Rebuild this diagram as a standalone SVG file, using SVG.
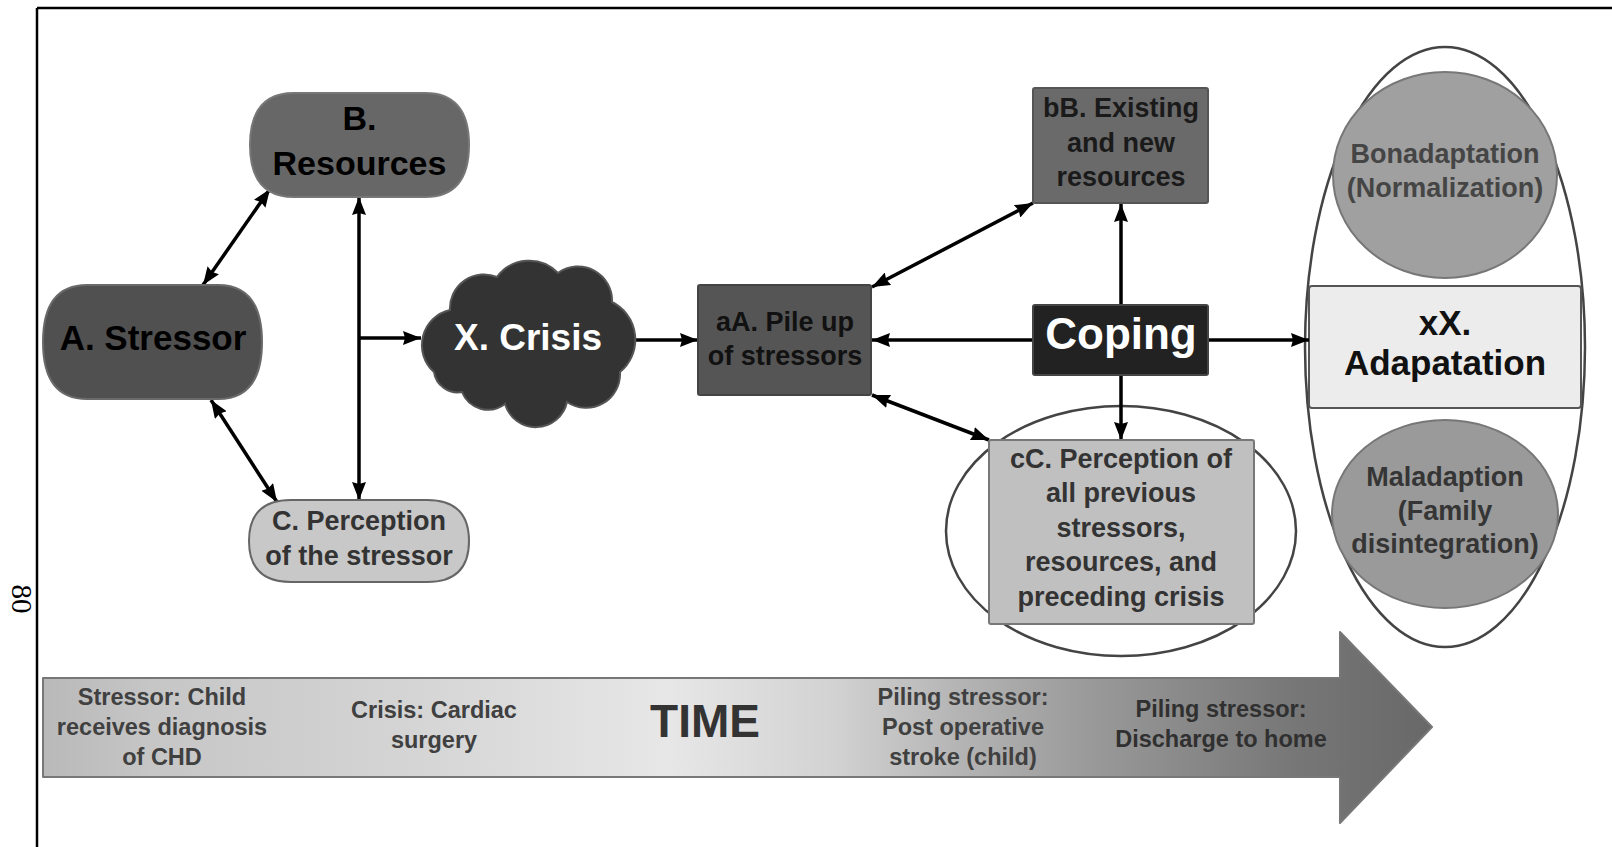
<svg xmlns="http://www.w3.org/2000/svg" width="1612" height="847" viewBox="0 0 1612 847">
<style>
text{font-family:"Liberation Sans",Arial,sans-serif;font-weight:bold;text-anchor:middle}
.t27{font-size:27px}
.tm{font-size:23.5px;fill:#404040}
.tmd{font-size:23.5px;fill:#303030}
.con{stroke:#000;stroke-width:3.5;fill:none}
.dbl{marker-start:url(#ah);marker-end:url(#ah)}
.one{marker-end:url(#ah)}
</style>
<defs>
<marker id="ah" markerUnits="userSpaceOnUse" markerWidth="19" markerHeight="14" refX="18" refY="7" orient="auto-start-reverse">
<path d="M0,0 L18,7 L0,14 L2,7 Z" fill="#000"/>
</marker>
<linearGradient id="timeg" gradientUnits="userSpaceOnUse" x1="43" y1="0" x2="1432" y2="0">
<stop offset="0" stop-color="#b9b9b9"/>
<stop offset="0.08" stop-color="#c6c6c6"/>
<stop offset="0.28" stop-color="#d6d6d6"/>
<stop offset="0.45" stop-color="#e7e7e7"/>
<stop offset="0.57" stop-color="#d2d2d2"/>
<stop offset="0.66" stop-color="#b4b4b4"/>
<stop offset="0.76" stop-color="#989898"/>
<stop offset="0.9" stop-color="#777777"/>
<stop offset="1" stop-color="#686868"/>
</linearGradient>
</defs>
<rect width="1612" height="847" fill="#fff"/>
<g id="frame">
<line x1="37" y1="8" x2="1612" y2="8" stroke="#000" stroke-width="2.5"/>
<line x1="37" y1="8" x2="37" y2="847" stroke="#000" stroke-width="2.5"/>
<text x="0" y="0" transform="translate(12,599) rotate(90)" style="font-family:'Liberation Serif','Times New Roman',serif;font-weight:normal;font-size:29px">80</text>
</g>
<g id="time-arrow">
<path d="M43,678 H1340 V632 L1432,727 L1340,823 V777 H43 Z" fill="url(#timeg)" stroke="#777" stroke-width="2" stroke-linejoin="round"/>
<text class="tm" x="162" y="705">Stressor: Child</text>
<text class="tm" x="162" y="735">receives diagnosis</text>
<text class="tm" x="162" y="765">of CHD</text>
<text class="tm" x="434" y="718">Crisis: Cardiac</text>
<text class="tm" x="434" y="748">surgery</text>
<text x="705" y="737" style="font-size:46px;fill:#333">TIME</text>
<text class="tm" x="963" y="705">Piling stressor:</text>
<text class="tm" x="963" y="735">Post operative</text>
<text class="tm" x="963" y="765">stroke (child)</text>
<text class="tmd" x="1221" y="717">Piling stressor:</text>
<text class="tmd" x="1221" y="747">Discharge to home</text>
</g>
<g id="adaptation-group">
<ellipse cx="1445" cy="347" rx="140" ry="300" fill="none" stroke="#444" stroke-width="2.5"/>
</g>
<g id="bonadaptation">
<ellipse cx="1445" cy="175" rx="112" ry="103" fill="#a0a0a0" stroke="#777" stroke-width="2"/>
<text class="t27" x="1445" y="163" fill="#454545">Bonadaptation</text>
<text class="t27" x="1445" y="197" fill="#454545">(Normalization)</text>
</g>
<g id="maladaption">
<ellipse cx="1445" cy="514" rx="113" ry="94" fill="#9a9a9a" stroke="#777" stroke-width="2"/>
<text class="t27" x="1445" y="486" fill="#353535">Maladaption</text>
<text class="t27" x="1445" y="520" fill="#353535">(Family</text>
<text class="t27" x="1445" y="553" fill="#353535">disintegration)</text>
</g>
<g id="adaptation">
<rect x="1309" y="286" width="272" height="122" rx="3" fill="#ececec" stroke="#555" stroke-width="2"/>
<text x="1445" y="335" style="font-size:35px;fill:#111">xX.</text>
<text x="1445" y="375" style="font-size:35px;fill:#111">Adapatation</text>
</g>
<g id="cc-ellipse">
<ellipse cx="1121" cy="531" rx="175" ry="125" fill="none" stroke="#444" stroke-width="2.5"/>
</g>
<g id="connectors">
<line class="con dbl" x1="203" y1="285" x2="270" y2="189"/>
<line class="con dbl" x1="211" y1="400" x2="277" y2="502"/>
<line class="con dbl" x1="359" y1="197" x2="359" y2="500"/>
<line class="con one" x1="359" y1="338" x2="421" y2="338"/>
<line class="con one" x1="632" y1="340" x2="698" y2="340"/>
<line class="con dbl" x1="872" y1="287" x2="1033" y2="203"/>
<line class="con one" x1="1033" y1="340" x2="872" y2="340"/>
<line class="con one" x1="1121" y1="305" x2="1121" y2="204"/>
<line class="con one" x1="1121" y1="375" x2="1121" y2="440"/>
<line class="con one" x1="1208" y1="340" x2="1309" y2="340"/>
<line class="con dbl" x1="872" y1="395" x2="989" y2="440"/>
</g>
<g id="stressor">
<path d="M87,285 H218 Q262,285 262,342 Q262,399 218,399 H87 Q43,399 43,342 Q43,285 87,285 Z" fill="#505050" stroke="#6a6a6a" stroke-width="2"/>
<text x="153" y="350" style="font-size:35px;fill:#000">A. Stressor</text>
</g>
<g id="resources">
<path d="M294,93 H425 Q469,93 469,145 Q469,197 425,197 H294 Q250,197 250,145 Q250,93 294,93 Z" fill="#676767" stroke="#777" stroke-width="2"/>
<text x="359.5" y="130" style="font-size:34px;fill:#000">B.</text>
<text x="359.5" y="175" style="font-size:34px;fill:#000">Resources</text>
</g>
<g id="perception">
<path d="M291,500 H427 Q469,500 469,541 Q469,582 427,582 H291 Q249,582 249,541 Q249,500 291,500 Z" fill="#c8c8c8" stroke="#666" stroke-width="2"/>
<text class="t27" x="359" y="530" fill="#333">C. Perception</text>
<text class="t27" x="359" y="565" fill="#333">of the stressor</text>
</g>
<g id="crisis">
<path d="M434,372 A36,36 0 0 1 450,310 A34,34 0 0 1 497,277 A40,40 0 0 1 558,273 A34,34 0 0 1 612,302 A42,42 0 0 1 620,372 A34,34 0 0 1 567,402 A32,32 0 0 1 505,404 A28,28 0 0 1 462,392 A24,24 0 0 1 434,372 Z" fill="#333" stroke="#555" stroke-width="2"/>
<text x="528" y="350" style="font-size:37px;fill:#fff">X. Crisis</text>
</g>
<g id="pileup">
<rect x="698" y="285" width="173" height="110" rx="2" fill="#555" stroke="#444" stroke-width="2"/>
<text class="t27" x="785" y="331" fill="#111">aA. Pile up</text>
<text class="t27" x="785" y="365" fill="#111">of stressors</text>
</g>
<g id="existing">
<rect x="1033" y="88" width="175" height="115" rx="2" fill="#6a6a6a" stroke="#555" stroke-width="2"/>
<text class="t27" x="1121" y="117" fill="#1a1a1a">bB. Existing</text>
<text class="t27" x="1121" y="152" fill="#1a1a1a">and new</text>
<text class="t27" x="1121" y="186" fill="#1a1a1a">resources</text>
</g>
<g id="coping">
<rect x="1033" y="305" width="175" height="70" rx="2" fill="#222" stroke="#444" stroke-width="2"/>
<text x="1121" y="349" style="font-size:44px;fill:#fff">Coping</text>
</g>
<g id="perception-all">
<rect x="989" y="440" width="265" height="184" rx="2" fill="#c0c0c0" stroke="#777" stroke-width="2"/>
<text class="t27" x="1121" y="468" fill="#333">cC. Perception of</text>
<text class="t27" x="1121" y="502" fill="#333">all previous</text>
<text class="t27" x="1121" y="537" fill="#333">stressors,</text>
<text class="t27" x="1121" y="571" fill="#333">resources, and</text>
<text class="t27" x="1121" y="606" fill="#333">preceding crisis</text>
</g>
</svg>
